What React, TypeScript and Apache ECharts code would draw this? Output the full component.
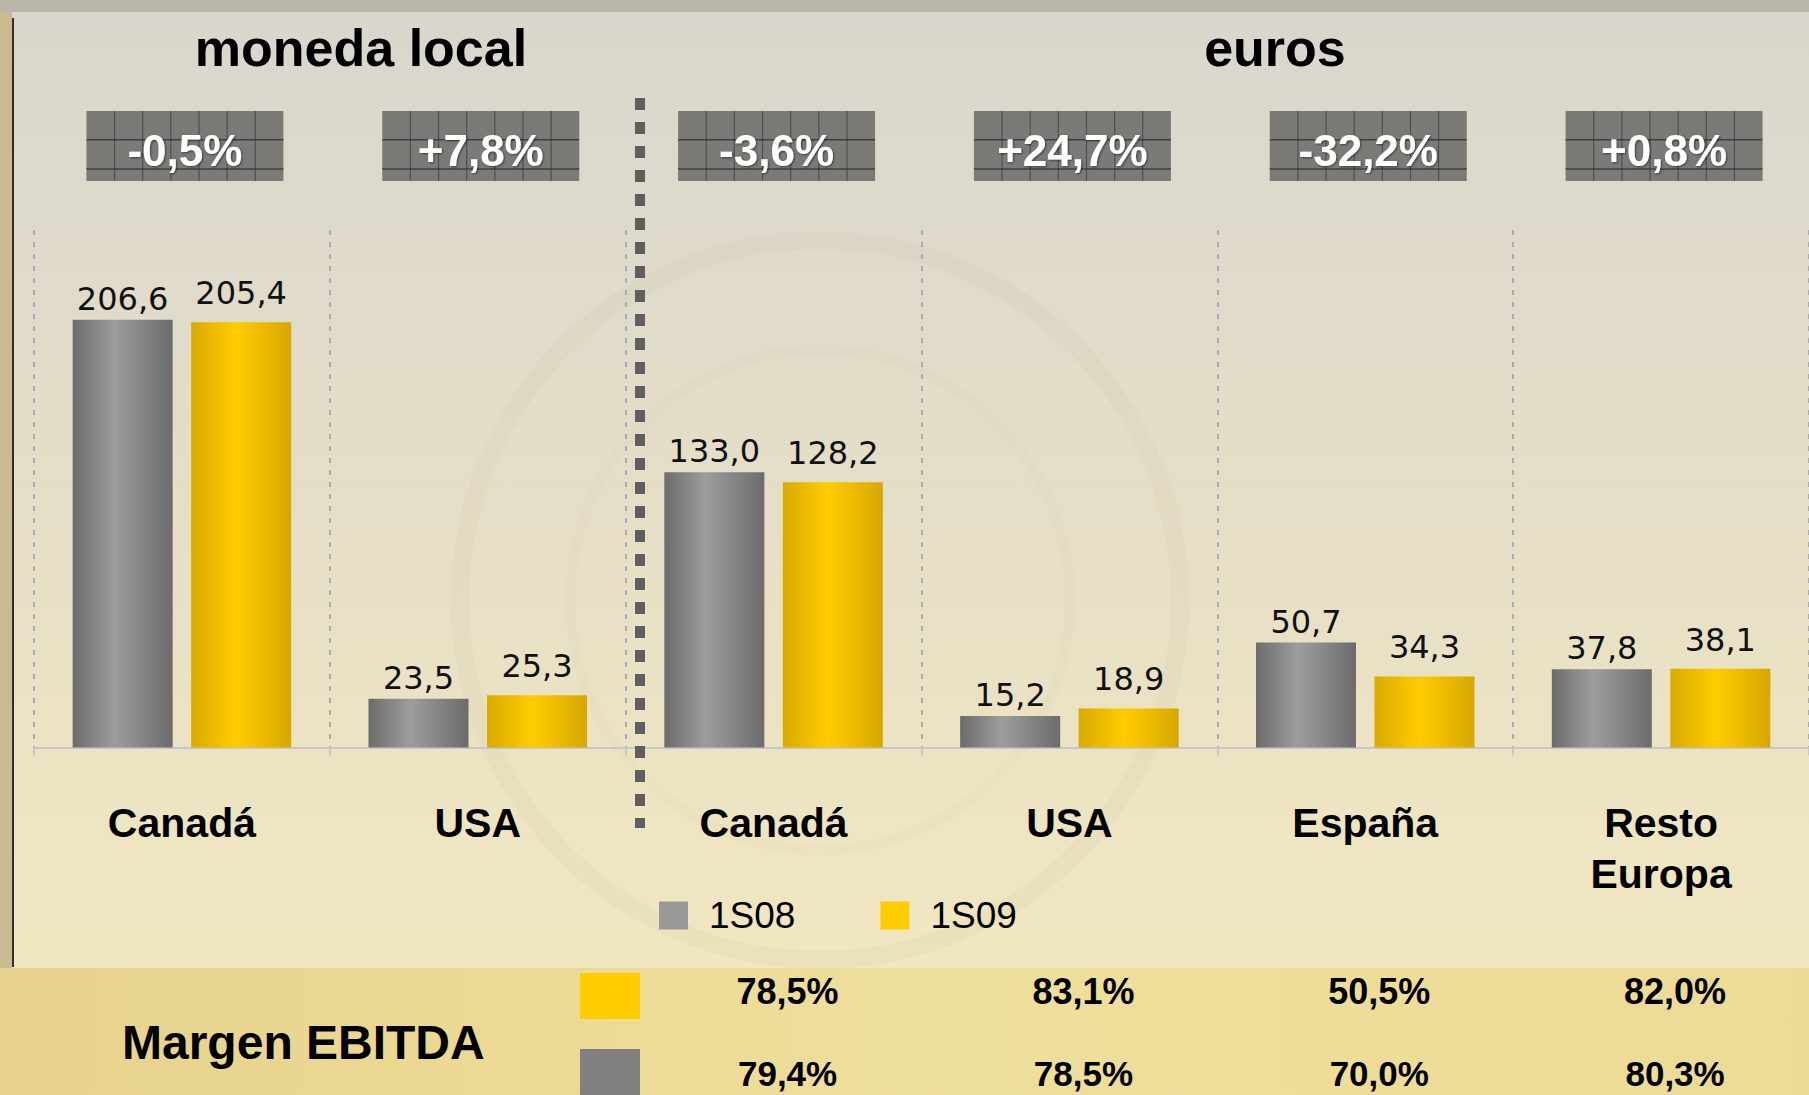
import React, { useEffect, useRef } from "react";
import * as echarts from "echarts";

const categories = ["Canadá", "USA", "Canadá", "USA", "España", "Resto\nEuropa"];
const seriesNames = ["1S08", "1S09"];
const values1S08 = [206.6, 23.5, 133.0, 15.2, 50.7, 37.8];
const values1S09 = [205.4, 25.3, 128.2, 18.9, 34.3, 38.1];
const changes = [-0.5, 7.8, -3.6, 24.7, -32.2, 0.8];
const panelTitles = ["moneda local", "euros"];
const marginLabel = "Margen EBITDA";
const marginCategoryIdx = [2, 3, 4, 5];
const margin1S09 = [78.5, 83.1, 50.5, 82.0];
const margin1S08 = [79.4, 78.5, 70.0, 80.3];

const FONT = '"Liberation Sans", Arial, sans-serif';
const fmt = (v: number) => v.toFixed(1).replace(".", ",");
const fmtChange = (v: number) => (v > 0 ? "+" : "") + fmt(v) + "%";

const grayGrad = new echarts.graphic.LinearGradient(0, 0, 1, 0, [
  { offset: 0, color: "#6c6c6c" },
  { offset: 0.42, color: "#9d9d9d" },
  { offset: 1, color: "#6c6c6c" },
]);
const yellowGrad = new echarts.graphic.LinearGradient(0, 0, 1, 0, [
  { offset: 0, color: "#d9aa00" },
  { offset: 0.45, color: "#ffcc00" },
  { offset: 1, color: "#d6a800" },
]);

export default function App() {
  const ref = useRef<HTMLDivElement>(null);
  useEffect(() => {
    if (!ref.current) return;
    const chart = echarts.init(ref.current, undefined, { renderer: "svg" });
    const option: any = {
      animation: false,
      graphic: [
        {
          type: "rect", z: -20, silent: true,
          shape: { x: 0, y: 0, width: 1809, height: 1095 },
          style: {
            fill: new echarts.graphic.LinearGradient(0, 0, 1, 0, [
              { offset: 0, color: "#e6d28c" },
              { offset: 0.5, color: "#efdf9c" },
              { offset: 1, color: "#ecdb96" },
            ]),
          },
        },
        { type: "rect", z: -19, silent: true, shape: { x: 0, y: 0, width: 1809, height: 12 }, style: { fill: "#b9b5aa" } },
        { type: "rect", z: -19, silent: true, shape: { x: 0, y: 12, width: 12, height: 956 }, style: { fill: "#c9ba92" } },
        {
          type: "rect", z: -18, silent: true,
          shape: { x: 12, y: 12, width: 1797, height: 956 },
          style: {
            fill: new echarts.graphic.LinearGradient(0, 0, 0, 1, [
              { offset: 0, color: "#d9d6cd" },
              { offset: 0.3, color: "#e0dbca" },
              { offset: 0.65, color: "#e9e1c5" },
              { offset: 1, color: "#f1e7c0" },
            ]),
          },
        },
        { type: "circle", z: -17, silent: true, shape: { cx: 820, cy: 600, r: 360 }, style: { fill: "none", stroke: "rgba(200,190,160,0.12)", lineWidth: 18 } },
        { type: "circle", z: -17, silent: true, shape: { cx: 820, cy: 600, r: 250 }, style: { fill: "none", stroke: "rgba(200,190,160,0.08)", lineWidth: 10 } },
        { type: "line", z: -16, silent: true, shape: { x1: 13, y1: 18, x2: 13, y2: 967 }, style: { stroke: "#2d2d2d", lineWidth: 2 } },
        { type: "text", z: 5, style: { x: 361, y: 48, text: panelTitles[0], fill: "#000", font: `bold 52px ${FONT}`, align: "center", verticalAlign: "middle" } },
        { type: "text", z: 5, style: { x: 1275, y: 48, text: panelTitles[1], fill: "#000", font: `bold 52px ${FONT}`, align: "center", verticalAlign: "middle" } },
        { type: "line", z: 5, silent: true, shape: { x1: 640, y1: 98, x2: 640, y2: 828 }, style: { stroke: "#5f5f5f", lineWidth: 10, lineDash: [12, 12] } },
        { type: "text", z: 5, style: { x: 122, y: 1042, text: marginLabel, fill: "#000", font: `bold 48px ${FONT}`, align: "left", verticalAlign: "middle" } },
        { type: "rect", z: 5, shape: { x: 580, y: 973, width: 60, height: 46 }, style: { fill: "#ffcc00" } },
        { type: "rect", z: 5, shape: { x: 580, y: 1049, width: 60, height: 60 }, style: { fill: "#808080" } },
      ],
      legend: {
        left: 659,
        top: 897,
        padding: 0,
        icon: "rect",
        itemWidth: 29,
        itemHeight: 28,
        itemGap: 85,
        data: [
          { name: seriesNames[0], itemStyle: { color: "#999999" } },
          { name: seriesNames[1], itemStyle: { color: "#ffcc00" } },
        ],
        textStyle: { fontSize: 37, fontFamily: FONT, color: "#000", lineHeight: 28, padding: [0, 0, 0, 16] },
      },
      grid: { left: 34, top: 230, width: 1779, height: 517.5 },
      xAxis: {
        type: "category",
        data: categories,
        axisLine: { lineStyle: { color: "#c6c6cc", width: 2 } },
        axisTick: { show: true, interval: 0, length: 8, lineStyle: { color: "#c0c0c8", width: 1.5 } },
        axisLabel: {
          interval: 0, margin: 50, fontSize: 41, fontWeight: "bold", fontFamily: FONT,
          color: "#000", lineHeight: 51,
        },
        splitLine: { show: true, interval: 0, lineStyle: { type: [5, 7], color: "#a9a9b8", width: 2 } },
      },
      yAxis: { type: "value", min: 0, max: 250, show: false, splitLine: { show: false } },
      series: [
        {
          name: seriesNames[0], type: "bar", data: values1S08, barWidth: 100, barGap: "18.5%",
          itemStyle: { color: grayGrad },
          label: {
            show: true, position: "top", distance: 5, formatter: (p: any) => fmt(p.value),
            fontSize: 32, fontFamily: '"DejaVu Sans", sans-serif', color: "#111",
          },
        },
        {
          name: seriesNames[1], type: "bar", data: values1S09, barWidth: 100,
          itemStyle: { color: yellowGrad },
          label: {
            show: true, position: "top", distance: 13, formatter: (p: any) => fmt(p.value),
            fontSize: 32, fontFamily: '"DejaVu Sans", sans-serif', color: "#111",
          },
        },
        {
          type: "custom", name: "change", silent: true, z: 6,
          data: changes.map((_, i) => [i, 0]),
          encode: { x: 0, y: 1 },
          renderItem: (params: any, api: any) => {
            const i = params.dataIndex;
            const cx = api.coord([api.value(0), 0])[0] + 3;
            const w = 197, h = 70;
            const top = 111;
            const x0 = cx - w / 2;
            const children: any[] = [
              { type: "rect", shape: { x: x0, y: top, width: w, height: h }, style: { fill: "#7c7a76" } },
            ];
            for (let k = 1; k < 7; k++) {
              const lx = x0 + (k * w) / 7;
              children.push({ type: "line", shape: { x1: lx, y1: top, x2: lx, y2: top + h }, style: { stroke: "rgba(45,45,45,0.55)", lineWidth: 1.2 } });
            }
            [0.41, 0.83].forEach((f) => {
              children.push({ type: "line", shape: { x1: x0, y1: top + h * f, x2: x0 + w, y2: top + h * f }, style: { stroke: "rgba(40,40,40,0.7)", lineWidth: 1.5 } });
            });
            children.push({
              type: "text",
              style: {
                x: cx, y: top + h / 2 + 4, text: fmtChange(changes[i]), fill: "#fff",
                font: `bold 44px ${FONT}`, align: "center", verticalAlign: "middle",
                textShadowColor: "rgba(0,0,0,0.5)", textShadowBlur: 2, textShadowOffsetX: 1, textShadowOffsetY: 1,
              },
            });
            return { type: "group", children };
          },
        },
        {
          type: "custom", name: "margin", silent: true, z: 6,
          data: marginCategoryIdx.map((c) => [c, 0]),
          encode: { x: 0, y: 1 },
          renderItem: (params: any, api: any) => {
            const i = params.dataIndex;
            const cx = api.coord([api.value(0), 0])[0] + 14;
            return {
              type: "group",
              children: [
                { type: "text", style: { x: cx, y: 991, text: fmt(margin1S09[i]) + "%", fill: "#000", font: `bold 36px ${FONT}`, align: "center", verticalAlign: "middle" } },
                { type: "text", style: { x: cx, y: 1073, text: fmt(margin1S08[i]) + "%", fill: "#000", font: `bold 35px ${FONT}`, align: "center", verticalAlign: "middle" } },
              ],
            };
          },
        },
      ],
    };
    chart.setOption(option);
    return () => chart.dispose();
  }, []);
  return (
    <div
      ref={ref}
      style={{ position: "absolute", left: 0, top: 0, width: 1809, height: 1095 }}
    />
  );
}
